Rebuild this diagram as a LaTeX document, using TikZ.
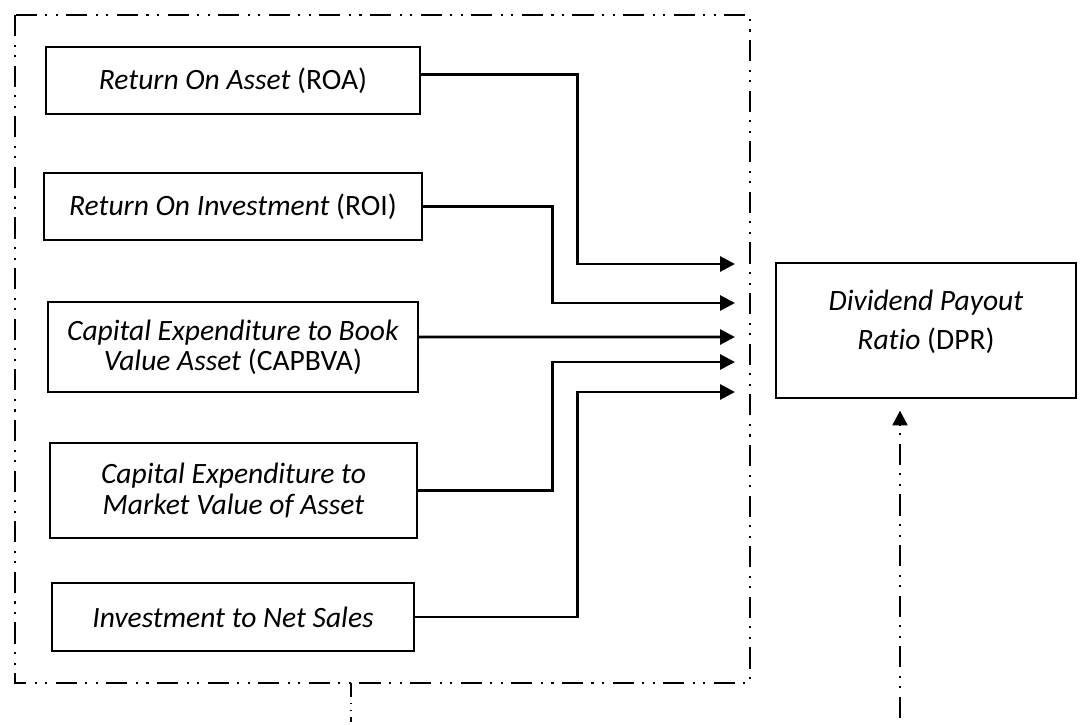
\documentclass[tikz,border=0pt]{standalone}
\usepackage{fontspec}
\setmainfont{Carlito}[Ligatures=NoCommon]
\usetikzlibrary{arrows.meta}
\tikzset{
  varbox/.style={draw, line width=0.8pt, align=center, inner sep=2pt,
    font=\fontsize{21}{21.5}\selectfont},
  link/.style={line width=2pt, -{Triangle[length=10.5pt,width=10.5pt]}},
  dashdotdot/.style={line width=2pt,
    dash pattern=on 15pt off 6pt on 1.5pt off 6pt on 1.5pt off 6pt}
}
\begin{document}
\begin{tikzpicture}[x=0.025cm, y=-0.025cm]
        \useasboundingbox (0,0) rectangle (1083,724);
        % Group frame around the independent variables
        \draw[dashdotdot] (15,15) rectangle (750,683);
        \draw[line width=0.8pt, dash pattern=on 10pt off 4pt on 1pt off 4pt on 1pt off 4pt] (351,683) -- (351,722);

        % Independent variables
        \node[varbox, minimum width=9.35cm, minimum height=1.675cm] (roa) at (233,80.5) {\textit{Return On Asset} (ROA)};
        \node[varbox, minimum width=9.45cm, minimum height=1.675cm] (roi) at (233,206.5) {\textit{Return On Investment} (ROI)};
        \node[varbox, minimum width=9.25cm, minimum height=2.25cm] (capbva) at (233,347) {\textit{Capital Expenditure to Book}\\\textit{Value Asset} (CAPBVA)};
        \node[varbox, minimum width=9.175cm, minimum height=2.375cm] (cemva) at (233.5,490.5) {\textit{Capital Expenditure to}\\\textit{Market Value of Asset}};
        \node[varbox, minimum width=9.05cm, minimum height=1.7cm] (ins) at (233,617) {\textit{Investment to Net Sales}};

        % Dependent variable
        \node[varbox, font=\fontsize{21}{27.5}\selectfont, minimum width=7.5cm, minimum height=3.375cm] (dpr) at (926,330.5) {\textit{Dividend Payout}\\\textit{Ratio} (DPR)\\[-12pt]};

        % Arrow ends at the frame
        \coordinate (tip1) at (735,264);
        \coordinate (tip2) at (735,303);
        \coordinate (tip3) at (735,337);
        \coordinate (tip4) at (735,362);
        \coordinate (tip5) at (735,392);
        \coordinate (up) at (900,718);

        % Connectors
        \draw[link] ([yshift=0.16cm]roa.east) -- ++(157,0) |- (tip1);
        \draw[link] (roi.east) -- ++(130,0) |- (tip2);
        \draw[link] ([yshift=0.25cm]capbva.east) -- (tip3);
        \draw[link] (cemva.east) -- ++(135,0) |- (tip4);
        \draw[link] (ins.east) -- ++(163,0) |- (tip5);
        \draw[dashdotdot, -{Triangle[length=10.5pt,width=10.5pt]}, shorten >=0.3cm] (up) -- (up |- dpr.south);
    \end{tikzpicture}
\end{document}
